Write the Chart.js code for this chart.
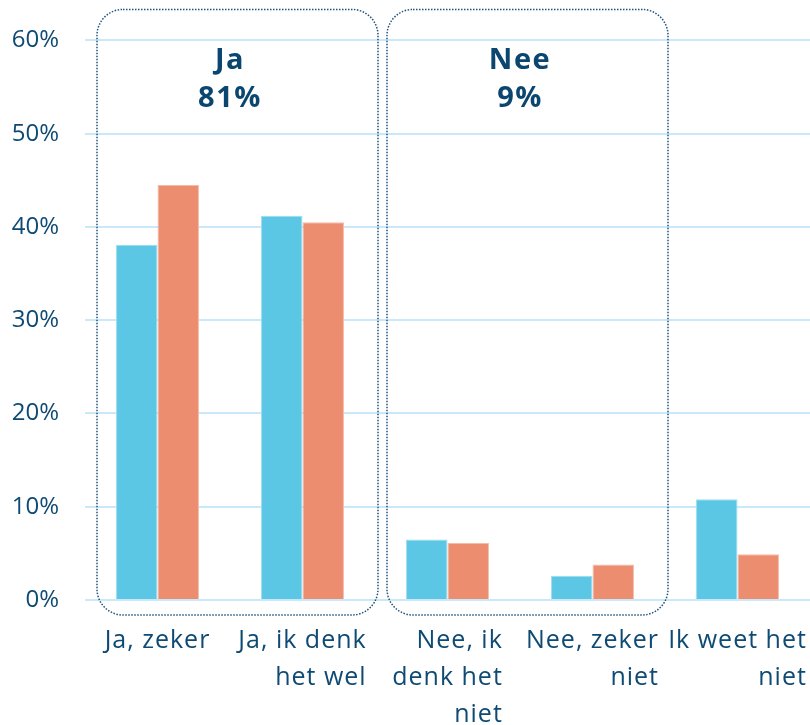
<!DOCTYPE html>
<html>
<head>
<meta charset="utf-8">
<script src="https://cdn.jsdelivr.net/npm/chart.js@4.4.1/dist/chart.umd.min.js"></script>
<style>
  html, body { margin: 0; padding: 0; background: #fff; }
  #wrap { width: 810px; height: 725px; position: relative; }
</style>
</head>
<body>
<div id="wrap"><canvas id="myChart"></canvas></div>
<script>
// data
var categories = [
  ["Ja, zeker"],
  ["Ja, ik denk", "het wel"],
  ["Nee, ik", "denk het", "niet"],
  ["Nee, zeker", "niet"],
  ["Ik weet het", "niet"]
];
var serieBlauw = [38.1, 41.2, 6.5, 2.6, 10.8];
var serieOranje = [44.5, 40.5, 6.1, 3.8, 4.9];
var yTicks = [0, 10, 20, 30, 40, 50, 60];
var groupLabels = [["Ja", "81%"], ["Nee", "9%"]];
var groupRanges = [[0, 1], [2, 3]];

var textColor = "#0e4a73";
var fontFamily = "'Open Sans', 'Noto Sans', sans-serif";

var groupBoxes = {
  id: "groupBoxes",
  afterDraw: function(chart) {
    var ctx = chart.ctx;
    var xs = chart.scales.x;
    var area = chart.chartArea;
    var w = xs.getPixelForValue(1) - xs.getPixelForValue(0);

    for (var g = 0; g < groupRanges.length; g++) {
      var left = xs.getPixelForValue(groupRanges[g][0]) - w / 2 + 12;
      var right = xs.getPixelForValue(groupRanges[g][1]) + w / 2 + 3;
      var top = area.top - 31;
      var bottom = area.bottom + 15;
      var r = 26;
      ctx.save();
      ctx.strokeStyle = "#1f527d";
      ctx.lineWidth = 1.5;
      ctx.setLineDash([1.5, 1.5]);
      ctx.beginPath();
      ctx.moveTo(left + r, top);
      ctx.arcTo(right, top, right, bottom, r);
      ctx.arcTo(right, bottom, left, bottom, r);
      ctx.arcTo(left, bottom, left, top, r);
      ctx.arcTo(left, top, right, top, r);
      ctx.closePath();
      ctx.stroke();
      ctx.restore();

      // group title, centred on the border between the two categories
      var cx = (xs.getPixelForValue(groupRanges[g][0]) + xs.getPixelForValue(groupRanges[g][1])) / 2;
      ctx.save();
      ctx.fillStyle = "#0b4670";
      ctx.font = "bold 29px " + fontFamily;
      ctx.letterSpacing = "1.5px";
      ctx.textAlign = "center";
      ctx.textBaseline = "alphabetic";
      ctx.fillText(groupLabels[g][0], cx, area.top + 29);
      ctx.fillText(groupLabels[g][1], cx, area.top + 67);
      ctx.restore();
    }

    // x labels: lines right aligned, block centred under the category
    ctx.save();
    ctx.fillStyle = textColor;
    ctx.font = "25px " + fontFamily;
    ctx.letterSpacing = "1px";
    ctx.textAlign = "right";
    ctx.textBaseline = "alphabetic";
    for (var i = 0; i < categories.length; i++) {
      var lines = categories[i];
      var maxW = 0;
      lines.forEach(function(l) { maxW = Math.max(maxW, ctx.measureText(l).width); });
      var xr = xs.getPixelForValue(i) + maxW / 2;
      lines.forEach(function(l, k) {
        ctx.fillText(l, xr, area.bottom + 48 + k * 37);
      });
    }
    ctx.restore();
  }
};

var config = {
  type: "bar",
  data: {
    labels: categories,
    datasets: [{
      label: "Blauw",
      data: serieBlauw,
      backgroundColor: "#5cc7e5",
      borderColor: "#9fdcf0",
      borderWidth: 1,
      categoryPercentage: 0.572,
      barPercentage: 1
    }, {
      label: "Oranje",
      data: serieOranje,
      backgroundColor: "#ec8d6f",
      borderColor: "#f4bba8",
      borderWidth: 1,
      categoryPercentage: 0.572,
      barPercentage: 1
    }]
  },
  plugins: [groupBoxes],
  options: {
    responsive: true,
    maintainAspectRatio: false,
    animation: false,
    layout: { padding: { top: 38, bottom: 125, right: 0, left: 0 } },
    plugins: {
      legend: { display: false },
      tooltip: { enabled: false }
    },
    scales: {
      x: {
        display: false
      },
      y: {
        min: 0,
        max: 60,
        afterFit: function(scale) { scale.width = 85; },
        afterBuildTicks: function(scale) {
          scale.ticks = yTicks.map(function(v) { return { value: v }; });
        },
        ticks: {
          padding: 26,
          color: textColor,
          font: { family: fontFamily, size: 24 },
          callback: function(v) { return v + "%"; }
        },
        grid: {
          color: "#c9e9fa",
          lineWidth: 2,
          drawTicks: false
        },
        border: { display: false }
      }
    }
  }
};

new Chart(document.getElementById("myChart").getContext("2d"), config);
</script>
</body>
</html>
